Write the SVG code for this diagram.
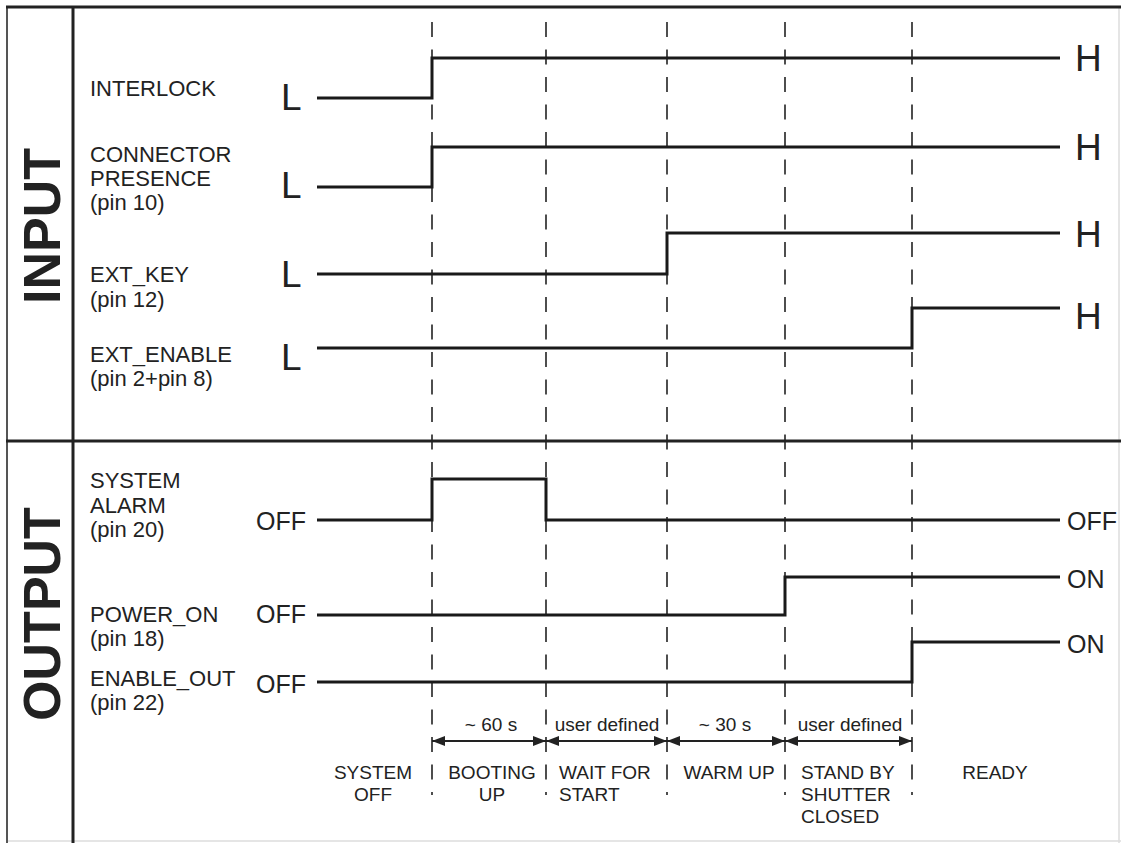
<svg xmlns="http://www.w3.org/2000/svg" width="1121" height="843" viewBox="0 0 1121 843">
<style>
.lbl{font-family:"Liberation Sans",Arial,sans-serif;font-size:22px;fill:#222}
.lvl{font-family:"Liberation Sans",Arial,sans-serif;font-size:37px;fill:#222}
.st{font-family:"Liberation Sans",Arial,sans-serif;font-size:25px;fill:#222}
.ph{font-family:"Liberation Sans",Arial,sans-serif;font-size:19px;fill:#222}
.big{font-family:"Liberation Sans",Arial,sans-serif;font-size:52px;font-weight:bold;fill:#222}
.sig{fill:none;stroke:#1a1a1a;stroke-width:3}
.dash{stroke:#222;stroke-width:1.6;stroke-dasharray:15 12.5}
.frame{stroke:#222;stroke-width:3}
.arr{stroke:#222;stroke-width:2;marker-start:url(#ah);marker-end:url(#ah)}
</style>
<defs>
<marker id="ah" viewBox="0 0 13 10" refX="13" refY="5" markerWidth="13" markerHeight="10" markerUnits="userSpaceOnUse" orient="auto-start-reverse">
<path d="M0,0 L13,5 L0,10 Z" fill="#222"/>
</marker>
</defs>
<rect width="1121" height="843" fill="#fff"/>
<g id="frame">
<line x1="1119" y1="7" x2="1119" y2="843" stroke="#ddd" stroke-width="1.5"/>
<line x1="7" y1="841" x2="1121" y2="841" stroke="#ddd" stroke-width="1.5"/>
<line x1="7" y1="7" x2="7" y2="843" stroke="#555" stroke-width="2"/>
<line class="frame" x1="6" y1="7" x2="1121" y2="7"/>
<line class="frame" x1="73" y1="7" x2="73" y2="843"/>
<line class="frame" x1="6" y1="441" x2="1121" y2="441"/>
<text class="big" transform="translate(60,226) rotate(-90)" text-anchor="middle">INPUT</text>
<text class="big" transform="translate(60,614) rotate(-90)" text-anchor="middle">OUTPUT</text>
</g>
<g id="gridlines">
<line class="dash" x1="432" y1="22" x2="432" y2="795"/>
<line class="dash" x1="546" y1="22" x2="546" y2="795"/>
<line class="dash" x1="667" y1="22" x2="667" y2="795"/>
<line class="dash" x1="785" y1="22" x2="785" y2="795"/>
<line class="dash" x1="912" y1="22" x2="912" y2="795"/>
</g>
<g id="interlock">
<text class="lbl" x="90" y="96">INTERLOCK</text>
<text class="lvl" x="281" y="110">L</text>
<path class="sig" d="M317,98 H432 V58 H1060"/>
<text class="lvl" x="1075" y="71">H</text>
</g>
<g id="connector">
<text class="lbl" x="90" y="162">CONNECTOR</text>
<text class="lbl" x="90" y="186">PRESENCE</text>
<text class="lbl" x="90" y="210">(pin 10)</text>
<text class="lvl" x="281" y="198">L</text>
<path class="sig" d="M317,187 H432 V147 H1060"/>
<text class="lvl" x="1075" y="160">H</text>
</g>
<g id="extkey">
<text class="lbl" x="90" y="282">EXT_KEY</text>
<text class="lbl" x="90" y="307">(pin 12)</text>
<text class="lvl" x="281" y="287">L</text>
<path class="sig" d="M317,274 H667 V233 H1060"/>
<text class="lvl" x="1075" y="247">H</text>
</g>
<g id="extenable">
<text class="lbl" x="90" y="362">EXT_ENABLE</text>
<text class="lbl" x="90" y="386">(pin 2+pin 8)</text>
<text class="lvl" x="281" y="370">L</text>
<path class="sig" d="M317,348 H912 V308 H1060"/>
<text class="lvl" x="1075" y="329">H</text>
</g>
<g id="alarm">
<text class="lbl" x="90" y="488">SYSTEM</text>
<text class="lbl" x="90" y="513">ALARM</text>
<text class="lbl" x="90" y="537">(pin 20)</text>
<text class="st" x="306" y="530" text-anchor="end">OFF</text>
<path class="sig" d="M317,520 H432 V479 H546 V520 H1060"/>
<text class="st" x="1067" y="530">OFF</text>
</g>
<g id="poweron">
<text class="lbl" x="90" y="622">POWER_ON</text>
<text class="lbl" x="90" y="646">(pin 18)</text>
<text class="st" x="306" y="623" text-anchor="end">OFF</text>
<path class="sig" d="M317,615 H785 V577 H1060"/>
<text class="st" x="1067" y="588">ON</text>
</g>
<g id="enableout">
<text class="lbl" x="90" y="686">ENABLE_OUT</text>
<text class="lbl" x="90" y="710">(pin 22)</text>
<text class="st" x="306" y="693" text-anchor="end">OFF</text>
<path class="sig" d="M317,682 H912 V642 H1060"/>
<text class="st" x="1067" y="653">ON</text>
</g>
<g id="connectors">
<line class="arr" x1="432" y1="741" x2="546" y2="741"/>
<line class="arr" x1="546" y1="741" x2="667" y2="741"/>
<line class="arr" x1="667" y1="741" x2="785" y2="741"/>
<line class="arr" x1="785" y1="741" x2="912" y2="741"/>
</g>
<g id="durations">
<text class="ph" x="491" y="731" text-anchor="middle">~ 60 s</text>
<text class="ph" x="607" y="731" text-anchor="middle">user defined</text>
<text class="ph" x="725" y="731" text-anchor="middle">~ 30 s</text>
<text class="ph" x="850" y="731" text-anchor="middle">user defined</text>
</g>
<g id="phases">
<text class="ph" x="373" y="779" text-anchor="middle">SYSTEM</text>
<text class="ph" x="373" y="801" text-anchor="middle">OFF</text>
<text class="ph" x="492" y="779" text-anchor="middle">BOOTING</text>
<text class="ph" x="492" y="801" text-anchor="middle">UP</text>
<text class="ph" x="559" y="779">WAIT FOR</text>
<text class="ph" x="559" y="801">START</text>
<text class="ph" x="729" y="779" text-anchor="middle">WARM UP</text>
<text class="ph" x="801" y="779">STAND BY</text>
<text class="ph" x="801" y="801">SHUTTER</text>
<text class="ph" x="801" y="823">CLOSED</text>
<text class="ph" x="995" y="779" text-anchor="middle">READY</text>
</g>
</svg>
